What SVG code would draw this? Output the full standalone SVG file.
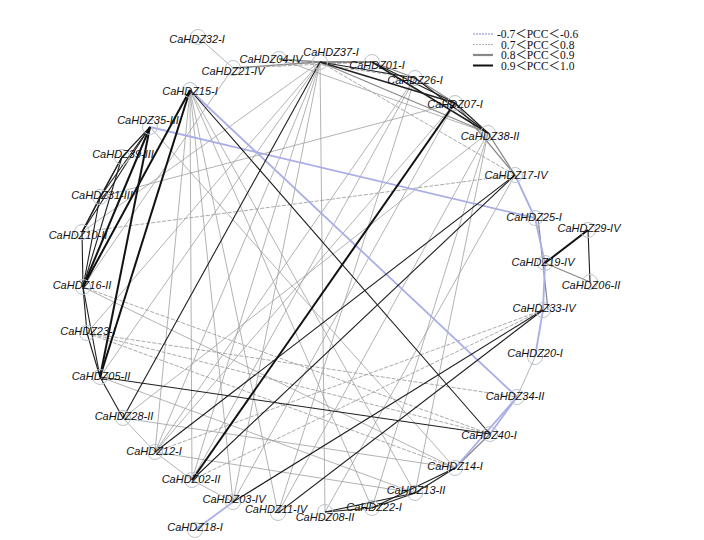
<svg xmlns="http://www.w3.org/2000/svg" width="704" height="540" viewBox="0 0 704 540">
<style>
.k{stroke:#1e1e1e;stroke-width:1.1;fill:none}
.km{stroke:#222;stroke-width:1.5;fill:none}
.kt{stroke:#111;stroke-width:2;fill:none}
.b{stroke:#a9aee6;stroke-width:1.8;fill:none}
.g{stroke:#8a8a8a;stroke-width:1.3;fill:none}
.d{stroke:#999;stroke-width:0.75;fill:none}
.dd{stroke:#a0a0a0;stroke-width:0.9;fill:none;stroke-dasharray:4 1.5}
.n circle{fill:none;stroke:#b9c4cc;stroke-width:1}
.n text{font-family:"Liberation Sans",Arial,sans-serif;font-style:italic;font-size:11px;fill:#111;text-anchor:middle}
.lg text{font-family:"Liberation Serif","Noto Sans CJK SC",serif;font-size:11.5px;fill:#111}
</style>
<rect width="704" height="540" fill="#fff"/>
<g id="connectors">
<line class="d" x1="198" y1="37" x2="233" y2="68"/>
<line class="d" x1="233" y1="68" x2="83" y2="287"/>
<line class="dd" x1="233" y1="68" x2="372" y2="62"/>
<line class="dd" x1="279" y1="59" x2="415" y2="78"/>
<line class="d" x1="279" y1="59" x2="488" y2="133"/>
<line class="d" x1="320" y1="62" x2="82" y2="232"/>
<line class="d" x1="320" y1="62" x2="87" y2="333"/>
<line class="d" x1="320" y1="62" x2="100" y2="377"/>
<line class="d" x1="320" y1="62" x2="155" y2="452"/>
<line class="d" x1="320" y1="62" x2="192" y2="480"/>
<line class="d" x1="320" y1="62" x2="233" y2="502"/>
<line class="d" x1="320" y1="62" x2="325" y2="512"/>
<line class="dd" x1="320" y1="62" x2="515" y2="175"/>
<line class="d" x1="190" y1="90" x2="155" y2="452"/>
<line class="d" x1="190" y1="90" x2="192" y2="480"/>
<line class="d" x1="190" y1="90" x2="233" y2="502"/>
<line class="d" x1="190" y1="90" x2="278" y2="513"/>
<line class="d" x1="190" y1="90" x2="372" y2="508"/>
<line class="d" x1="190" y1="90" x2="415" y2="493"/>
<line class="d" x1="415" y1="78" x2="192" y2="480"/>
<line class="d" x1="415" y1="78" x2="155" y2="452"/>
<line class="d" x1="415" y1="78" x2="278" y2="513"/>
<line class="d" x1="488" y1="133" x2="123" y2="418"/>
<line class="d" x1="488" y1="133" x2="278" y2="513"/>
<line class="d" x1="488" y1="133" x2="372" y2="508"/>
<line class="d" x1="488" y1="133" x2="415" y2="493"/>
<line class="d" x1="455" y1="103" x2="155" y2="452"/>
<line class="d" x1="455" y1="103" x2="233" y2="502"/>
<line class="dd" x1="515" y1="175" x2="82" y2="232"/>
<line class="d" x1="515" y1="175" x2="325" y2="512"/>
<line class="dd" x1="87" y1="333" x2="490" y2="434"/>
<line class="dd" x1="87" y1="333" x2="455" y2="468"/>
<line class="dd" x1="87" y1="333" x2="517" y2="397"/>
<line class="dd" x1="83" y1="287" x2="490" y2="434"/>
<line class="d" x1="83" y1="287" x2="455" y2="468"/>
<line class="d" x1="100" y1="377" x2="415" y2="493"/>
<line class="d" x1="123" y1="418" x2="455" y2="468"/>
<line class="d" x1="155" y1="452" x2="415" y2="493"/>
<line class="dd" x1="543" y1="310" x2="192" y2="480"/>
<line class="dd" x1="543" y1="310" x2="155" y2="452"/>
<line class="d" x1="100" y1="197" x2="455" y2="103"/>
<line class="d" x1="150" y1="127" x2="455" y2="468"/>
<line class="g" x1="279" y1="59" x2="320" y2="62"/>
<line class="g" x1="233" y1="68" x2="320" y2="62"/>
<line class="g" x1="320" y1="62" x2="488" y2="133"/>
<line class="g" x1="372" y1="62" x2="415" y2="78"/>
<line class="g" x1="415" y1="78" x2="455" y2="103"/>
<line class="g" x1="455" y1="103" x2="515" y2="175"/>
<line class="g" x1="488" y1="133" x2="515" y2="175"/>
<line class="g" x1="538" y1="218" x2="548" y2="310"/>
<line class="g" x1="545" y1="263" x2="590" y2="282"/>
<line class="d" x1="535" y1="357" x2="517" y2="397"/>
<line class="d" x1="155" y1="452" x2="192" y2="480"/>
<line class="d" x1="123" y1="418" x2="155" y2="452"/>
<line class="d" x1="192" y1="480" x2="233" y2="502"/>
<line class="g" x1="490" y1="434" x2="455" y2="468"/>
<line class="b" x1="150" y1="127" x2="535" y2="218"/>
<line class="b" x1="190" y1="90" x2="517" y2="397"/>
<line class="b" x1="515" y1="175" x2="535" y2="218"/>
<line class="b" x1="535" y1="218" x2="545" y2="263"/>
<line class="b" x1="545" y1="263" x2="543" y2="310"/>
<line class="b" x1="543" y1="310" x2="535" y2="357"/>
<line class="b" x1="517" y1="397" x2="490" y2="434"/>
<line class="b" x1="517" y1="397" x2="455" y2="468"/>
<line class="b" x1="233" y1="502" x2="195" y2="530"/>
<line class="k" x1="150" y1="127" x2="122" y2="157"/>
<line class="k" x1="150" y1="127" x2="100" y2="197"/>
<line class="k" x1="150" y1="127" x2="82" y2="232"/>
<line class="k" x1="122" y1="157" x2="100" y2="197"/>
<line class="k" x1="122" y1="157" x2="83" y2="287"/>
<line class="k" x1="122" y1="157" x2="82" y2="232"/>
<line class="k" x1="100" y1="197" x2="83" y2="287"/>
<line class="k" x1="100" y1="197" x2="82" y2="232"/>
<line class="k" x1="82" y1="232" x2="83" y2="287"/>
<line class="k" x1="83" y1="287" x2="87" y2="333"/>
<line class="k" x1="83" y1="287" x2="100" y2="377"/>
<line class="k" x1="87" y1="333" x2="100" y2="377"/>
<line class="k" x1="100" y1="377" x2="123" y2="418"/>
<line class="k" x1="320" y1="62" x2="123" y2="418"/>
<line class="k" x1="515" y1="175" x2="192" y2="480"/>
<line class="k" x1="515" y1="175" x2="155" y2="452"/>
<line class="k" x1="190" y1="90" x2="490" y2="434"/>
<line class="k" x1="543" y1="310" x2="233" y2="502"/>
<line class="k" x1="543" y1="310" x2="278" y2="513"/>
<line class="k" x1="100" y1="377" x2="490" y2="434"/>
<line class="k" x1="320" y1="62" x2="372" y2="62"/>
<line class="k" x1="320" y1="62" x2="415" y2="78"/>
<line class="k" x1="372" y1="62" x2="455" y2="103"/>
<line class="k" x1="415" y1="78" x2="488" y2="133"/>
<line class="k" x1="455" y1="103" x2="488" y2="133"/>
<line class="k" x1="455" y1="468" x2="415" y2="493"/>
<line class="k" x1="455" y1="468" x2="372" y2="508"/>
<line class="k" x1="415" y1="493" x2="372" y2="508"/>
<line class="k" x1="372" y1="508" x2="325" y2="512"/>
<line class="k" x1="415" y1="493" x2="325" y2="512"/>
<line class="k" x1="588" y1="230" x2="590" y2="282"/>
<line class="km" x1="320" y1="62" x2="455" y2="103"/>
<line class="km" x1="372" y1="62" x2="488" y2="133"/>
<line class="kt" x1="455" y1="103" x2="192" y2="480"/>
<line class="kt" x1="190" y1="90" x2="83" y2="287"/>
<line class="kt" x1="190" y1="90" x2="100" y2="377"/>
<line class="kt" x1="150" y1="127" x2="83" y2="287"/>
<line class="kt" x1="150" y1="127" x2="100" y2="377"/>
<line class="kt" x1="588" y1="230" x2="545" y2="263"/>
</g>
<g id="n32" class="n"><circle cx="198" cy="37" r="7.5"/><text x="197" y="43">CaHDZ32-I</text></g>
<g id="n21" class="n"><circle cx="233" cy="68" r="7.5"/><text x="233" y="75">CaHDZ21-IV</text></g>
<g id="n04" class="n"><circle cx="279" cy="59" r="7.5"/><text x="271" y="63">CaHDZ04-IV</text></g>
<g id="n37" class="n"><circle cx="320" cy="62" r="7.5"/><text x="331" y="56">CaHDZ37-I</text></g>
<g id="n01" class="n"><circle cx="372" cy="62" r="7.5"/><text x="377" y="69">CaHDZ01-I</text></g>
<g id="n26" class="n"><circle cx="415" cy="78" r="7.5"/><text x="415" y="84">CaHDZ26-I</text></g>
<g id="n07" class="n"><circle cx="455" cy="103" r="7.5"/><text x="455" y="108">CaHDZ07-I</text></g>
<g id="n38" class="n"><circle cx="488" cy="133" r="7.5"/><text x="490" y="140">CaHDZ38-II</text></g>
<g id="n17" class="n"><circle cx="515" cy="175" r="7.5"/><text x="516" y="179">CaHDZ17-IV</text></g>
<g id="n25" class="n"><circle cx="535" cy="218" r="7.5"/><text x="534" y="221">CaHDZ25-I</text></g>
<g id="n29" class="n"><circle cx="588" cy="230" r="7.5"/><text x="589" y="232">CaHDZ29-IV</text></g>
<g id="n19" class="n"><circle cx="545" cy="263" r="7.5"/><text x="543" y="266">CaHDZ19-IV</text></g>
<g id="n06" class="n"><circle cx="590" cy="282" r="7.5"/><text x="591" y="289">CaHDZ06-II</text></g>
<g id="n33" class="n"><circle cx="543" cy="310" r="7.5"/><text x="544" y="312">CaHDZ33-IV</text></g>
<g id="n20" class="n"><circle cx="535" cy="357" r="7.5"/><text x="535" y="357">CaHDZ20-I</text></g>
<g id="n34" class="n"><circle cx="517" cy="397" r="7.5"/><text x="515" y="400">CaHDZ34-II</text></g>
<g id="n40" class="n"><circle cx="490" cy="434" r="7.5"/><text x="489" y="439">CaHDZ40-I</text></g>
<g id="n14" class="n"><circle cx="455" cy="468" r="7.5"/><text x="455" y="470">CaHDZ14-I</text></g>
<g id="n13" class="n"><circle cx="415" cy="493" r="7.5"/><text x="416" y="494">CaHDZ13-II</text></g>
<g id="n22" class="n"><circle cx="372" cy="508" r="7.5"/><text x="374" y="511">CaHDZ22-I</text></g>
<g id="n08" class="n"><circle cx="325" cy="512" r="7.5"/><text x="325" y="521">CaHDZ08-II</text></g>
<g id="n11" class="n"><circle cx="278" cy="513" r="7.5"/><text x="276" y="513">CaHDZ11-IV</text></g>
<g id="n03" class="n"><circle cx="233" cy="502" r="7.5"/><text x="234" y="503">CaHDZ03-IV</text></g>
<g id="n18" class="n"><circle cx="195" cy="530" r="7.5"/><text x="195" y="531">CaHDZ18-I</text></g>
<g id="n02" class="n"><circle cx="192" cy="480" r="7.5"/><text x="191" y="483">CaHDZ02-II</text></g>
<g id="n12" class="n"><circle cx="155" cy="452" r="7.5"/><text x="154" y="455">CaHDZ12-I</text></g>
<g id="n28" class="n"><circle cx="123" cy="418" r="7.5"/><text x="124" y="420">CaHDZ28-II</text></g>
<g id="n05" class="n"><circle cx="100" cy="377" r="7.5"/><text x="101" y="380">CaHDZ05-II</text></g>
<g id="n23" class="n"><circle cx="87" cy="333" r="7.5"/><text x="88" y="335">CaHDZ23-I</text></g>
<g id="n16" class="n"><circle cx="83" cy="287" r="7.5"/><text x="82" y="289">CaHDZ16-II</text></g>
<g id="n10" class="n"><circle cx="82" cy="232" r="7.5"/><text x="78" y="239">CaHDZ10-II</text></g>
<g id="n31" class="n"><circle cx="100" cy="197" r="7.5"/><text x="102" y="199">CaHDZ31-III</text></g>
<g id="n39" class="n"><circle cx="122" cy="157" r="7.5"/><text x="123" y="158">CaHDZ39-III</text></g>
<g id="n35" class="n"><circle cx="150" cy="127" r="7.5"/><text x="148" y="124">CaHDZ35-III</text></g>
<g id="n15" class="n"><circle cx="190" cy="90" r="7.5"/><text x="190" y="95">CaHDZ15-I</text></g>
<g id="legend" class="lg">
<line x1="473" y1="34" x2="493" y2="34" stroke="#a9aee6" stroke-width="1.5" stroke-dasharray="2 1"/>
<line x1="473" y1="44.5" x2="493" y2="44.5" stroke="#b0b0b0" stroke-width="1.2" stroke-dasharray="2 1"/>
<line x1="473" y1="55" x2="493" y2="55" stroke="#888" stroke-width="2.2"/>
<line x1="473" y1="65.5" x2="493" y2="65.5" stroke="#111" stroke-width="2"/>
<text x="497" y="38">-0.7＜PCC＜-0.6</text>
<text x="501" y="48.5">0.7＜PCC＜0.8</text>
<text x="501" y="59">0.8＜PCC＜0.9</text>
<text x="501" y="69.5">0.9＜PCC＜1.0</text>
</g>
</svg>
